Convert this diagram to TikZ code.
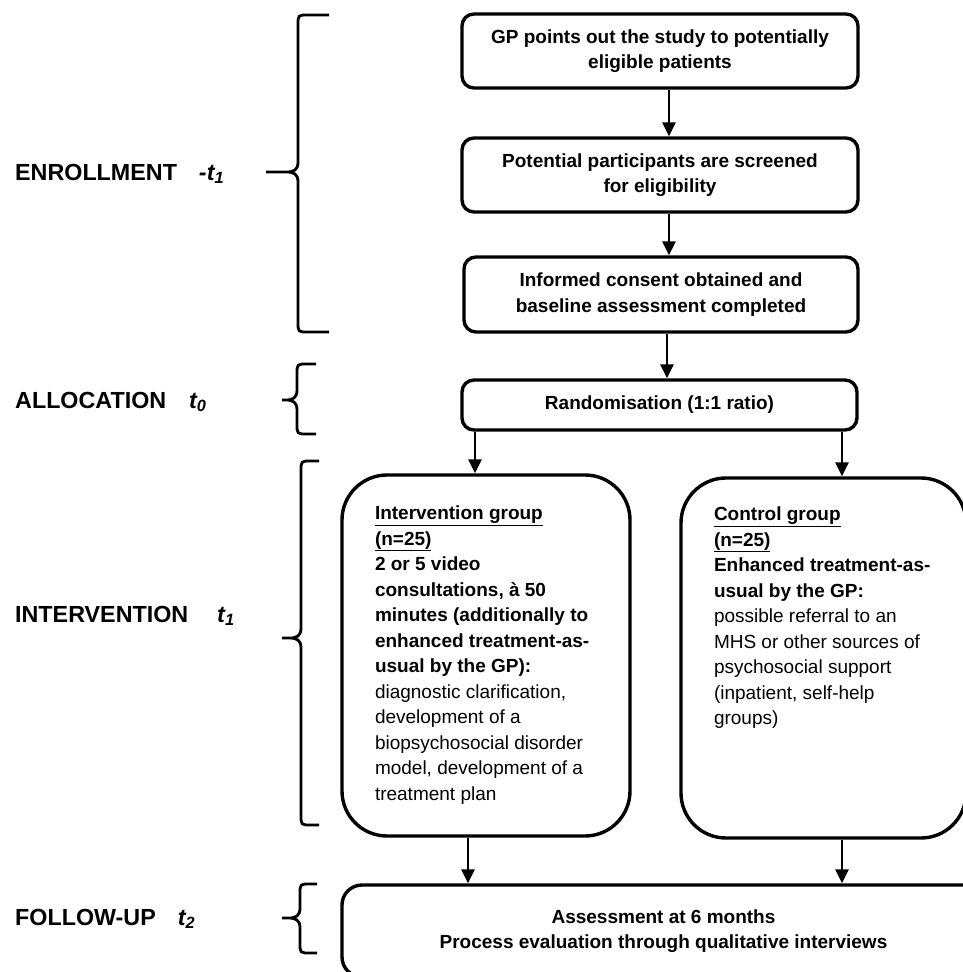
\documentclass[tikz,border=0pt]{standalone}
\usepackage{fontspec}
\setmainfont{Liberation Sans}
\usepackage{tikz}
\usetikzlibrary{arrows.meta}
\tikzset{x=1pt, y=-1pt, every edge/.style={draw,
		-{Triangle[length=14pt,width=13pt]},line width=2.8pt}}
\tikzstyle{stepBox}=[rectangle,draw=black,line width=3.4pt,rounded corners=12pt,align=center,inner sep=0pt,font=\fontsize{19}{25.5}\selectfont\bfseries]
\tikzstyle{groupBox}=[rectangle,draw=black,line width=3.4pt,rounded corners=45pt,inner sep=0pt,font=\fontsize{19}{25.5}\selectfont]
\tikzstyle{phaseLabel}=[anchor=base west,inner sep=0pt,font=\fontsize{23.3}{28}\selectfont\bfseries]
\tikzstyle{bracket}=[draw=black,line width=2.8pt]
% #1 x of the bar, #2 top, #3 bottom, #4 y of the tip, #5 x of the tip, #6 x of the arms
\newcommand{\phasebrace}[6]{%
	\draw[bracket] (#6,#2) -- ({#1+10},#2) .. controls (#1,#2) .. (#1,{#2+10}) -- (#1,{#4-10})
	.. controls (#1,{#4-2}) and ({#1-4},#4) .. ({#1-12},#4) -- (#5,#4)
	({#1-12},#4) .. controls ({#1-4},#4) and (#1,{#4+2}) .. (#1,{#4+10}) -- (#1,{#3-10})
	.. controls (#1,#3) .. ({#1+10},#3) -- (#6,#3);}

\begin{document}
\begin{tikzpicture}
		\useasboundingbox (0,0) rectangle (962,972);
		\coordinate (mid) at (669,0);
		\coordinate (mid2) at (667,0);
		\coordinate (left) at (475,0);
		\coordinate (left2) at (468,0);
		\coordinate (right) at (842,0);
		% boxes
		\node at (660,51) [stepBox,minimum width=396pt,minimum height=74pt] (1) {GP points out the study to potentially\\eligible patients};
		\node at (660,175) [stepBox,minimum width=396pt,minimum height=74pt] (2) {Potential participants are screened\\for eligibility};
		\node at (661,294.5) [stepBox,minimum width=394pt,minimum height=75pt] (3) {Informed consent obtained and\\baseline assessment completed};
		\node at (659.5,405) [stepBox,minimum width=395pt,minimum height=50pt] (4) {Randomisation (1:1 ratio)};
		\node at (486,655.5) [groupBox,minimum width=288pt,minimum height=361pt] (5) {\parbox[c][299pt][t]{222pt}{\raggedright
			{\bfseries\underline{Intervention group}\\
			\underline{(n=25)}\\
			2 or 5 video\\
			consultations, à 50\\
			minutes (additionally to\\
			enhanced treatment-as-\\
			usual by the GP):}\\
			diagnostic clarification,\\
			development of a\\
			biopsychosocial disorder\\
			model, development of a\\
			treatment plan}};
		\node at (823.5,658) [groupBox,minimum width=285pt,minimum height=360pt] (6) {\parbox[c][302pt][t]{219pt}{\raggedright
			{\bfseries\underline{Control group}\\
			\underline{(n=25)}\\
			Enhanced treatment-as-\\
			usual by the GP:}\\
			possible referral to an\\
			MHS or other sources of\\
			psychosocial support\\
			(inpatient, self-help\\
			groups)}};
		\node at (663.5,931) [stepBox,rounded corners=20pt,minimum width=643pt,minimum height=92pt] (7) {Assessment at 6 months\\Process evaluation through qualitative interviews};
		% phases
		\node at (15,180) [phaseLabel] (8) {ENROLLMENT\hspace{22pt}\textit{-t\textsubscript{1}}};
		\node at (15,408) [phaseLabel] (9) {ALLOCATION\hspace{23pt}\textit{t\textsubscript{0}}};
		\node at (15,622) [phaseLabel] (10) {INTERVENTION\hspace{29pt}\textit{t\textsubscript{1}}};
		\node at (15,925) [phaseLabel] (11) {FOLLOW-UP\hspace{22pt}\textit{t\textsubscript{2}}};
		\phasebrace{298}{15}{332}{172}{266}{329}
		\phasebrace{297}{364}{434}{400}{282}{316}
		\phasebrace{301}{461}{825}{638}{282}{319}
		\phasebrace{300}{884}{953}{918}{282}{317}
		% arrows
		\draw (1.south -| mid) edge (2.north -| mid);
		\draw (2.south -| mid) edge (3.north -| mid);
		\draw (3.south -| mid2) edge (4.north -| mid2);
		\draw (4.south -| left) edge (5.north -| left);
		\draw (4.south -| right) edge (6.north -| right);
		\draw (5.south -| left2) edge (7.north -| left2);
		\draw (6.south -| right) edge (7.north -| right);
		\end{tikzpicture}
\end{document}
